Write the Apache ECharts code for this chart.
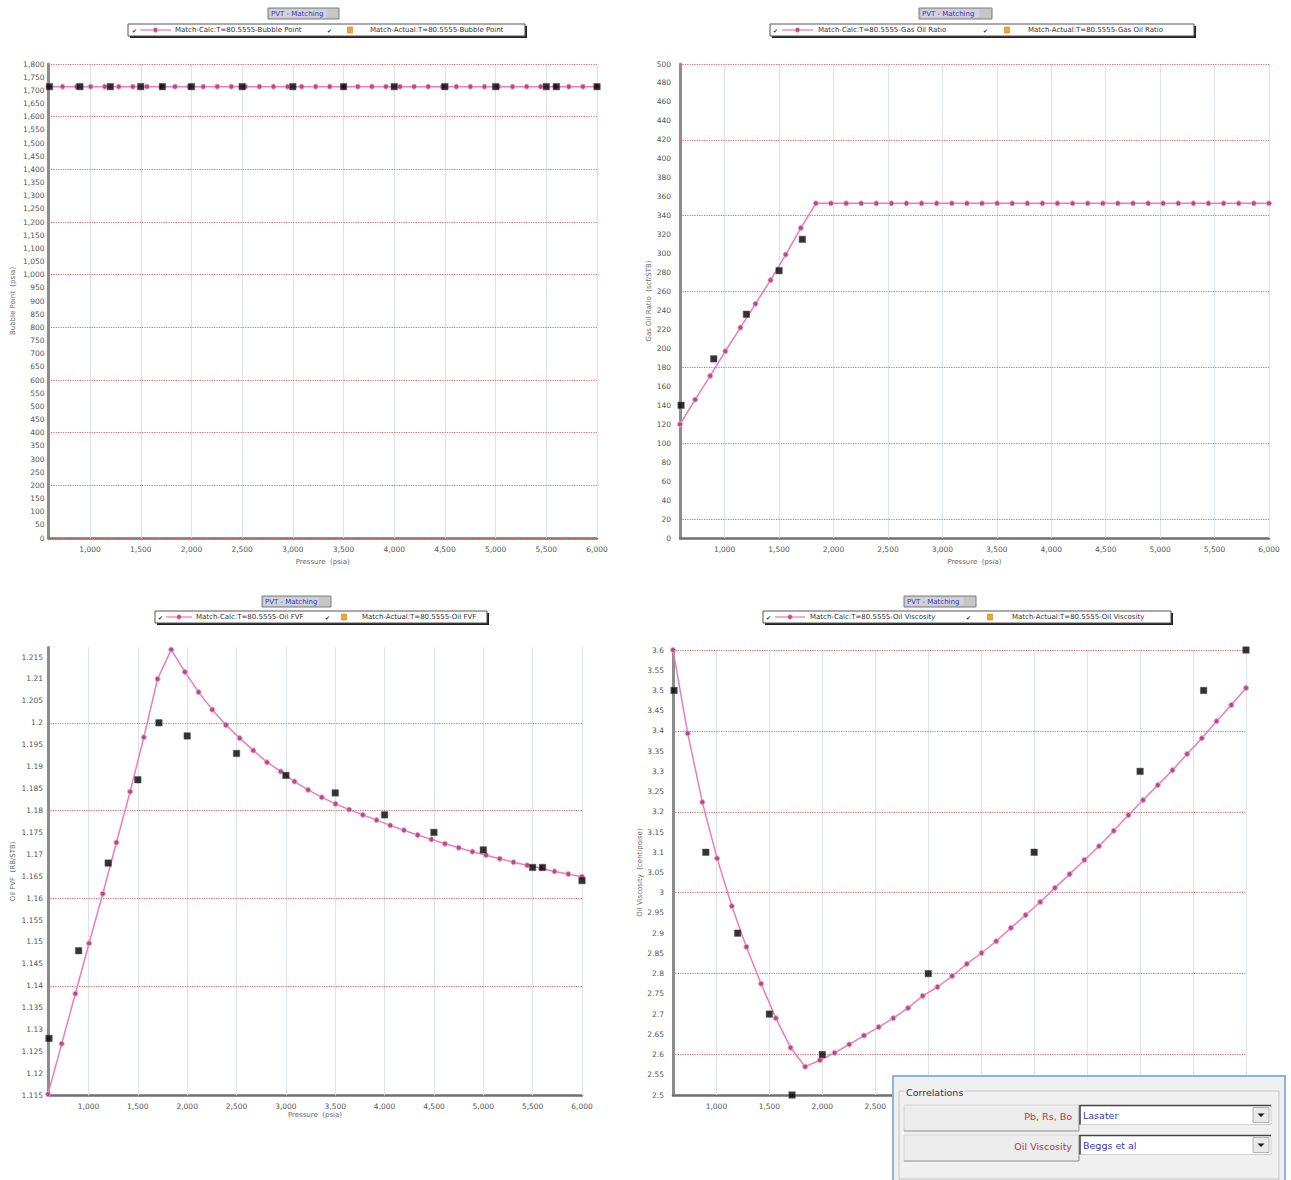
<!DOCTYPE html>
<html>
<head>
<meta charset="utf-8">
<title>PVT - Matching</title>
<script src="https://cdn.jsdelivr.net/npm/echarts@6/dist/echarts.min.js"></script>
<style>
  html, body { margin: 0; padding: 0; background: #ffffff; }
  #chart { width: 1291px; height: 1180px; }
</style>
</head>
<body>
<div id="chart"></div>
<script>
// ---- Calculated PVT table (pressure in psia) ----
const calcPressure = [590, 729, 867, 1006, 1145, 1283, 1422, 1561, 1700, 1838,
  1977, 2116, 2254, 2393, 2532, 2670, 2809, 2948, 3087, 3225,
  3364, 3503, 3641, 3780, 3919, 4057, 4196, 4335, 4474, 4612,
  4751, 4890, 5028, 5167, 5306, 5444, 5583, 5722, 5861, 6000];

const calcBubblePoint = [1714, 1714, 1714, 1714, 1714, 1714, 1714, 1714, 1714, 1714,
  1714, 1714, 1714, 1714, 1714, 1714, 1714, 1714, 1714, 1714,
  1714, 1714, 1714, 1714, 1714, 1714, 1714, 1714, 1714, 1714,
  1714, 1714, 1714, 1714, 1714, 1714, 1714, 1714, 1714, 1714];

const calcGasOilRatio = [120, 146, 171, 197, 222, 247, 272, 299, 327, 353,
  353, 353, 353, 353, 353, 353, 353, 353, 353, 353,
  353, 353, 353, 353, 353, 353, 353, 353, 353, 353,
  353, 353, 353, 353, 353, 353, 353, 353, 353, 353];

const calcOilFvf = [1.1153, 1.1268, 1.1382, 1.1497, 1.1610, 1.1727, 1.1843, 1.1967, 1.2100, 1.2167,
  1.2116, 1.2070, 1.2030, 1.1995, 1.1965, 1.1937, 1.1910, 1.1889, 1.1866, 1.1847,
  1.1830, 1.1815, 1.1802, 1.1790, 1.1778, 1.1766, 1.1755, 1.1744, 1.1734, 1.1724,
  1.1715, 1.1706, 1.1698, 1.1690, 1.1682, 1.1675, 1.1668, 1.1661, 1.1655, 1.1649];

const calcOilViscosity = [3.600, 3.394, 3.224, 3.085, 2.967, 2.866, 2.775, 2.690, 2.617, 2.570,
  2.586, 2.604, 2.625, 2.647, 2.668, 2.690, 2.715, 2.745, 2.767, 2.794,
  2.824, 2.851, 2.880, 2.913, 2.945, 2.977, 3.012, 3.046, 3.081, 3.115,
  3.153, 3.192, 3.229, 3.266, 3.303, 3.343, 3.382, 3.424, 3.464, 3.506];

// ---- Laboratory (actual) measurements ----
const actualPressure = [600, 900, 1200, 1500, 1714, 2000, 2500, 3000, 3500, 4000, 4500, 5000, 5500, 5600, 6000];
const actualBubblePoint = [1714, 1714, 1714, 1714, 1714, 1714, 1714, 1714, 1714, 1714, 1714, 1714, 1714, 1714, 1714];

const actualGorPressure = [600, 900, 1200, 1500, 1714];
const actualGasOilRatio = [140, 189, 236, 282, 315];

const actualOilFvf = [1.128, 1.148, 1.168, 1.187, 1.200, 1.197, 1.193, 1.188, 1.184, 1.179, 1.175, 1.171, 1.167, 1.167, 1.164];

const actualViscPressure = [600, 900, 1200, 1500, 1714, 2000, 3000, 4000, 5000, 5600, 6000];
const actualOilViscosity = [3.5, 3.1, 2.9, 2.7, 2.5, 2.6, 2.8, 3.1, 3.3, 3.5, 3.6];

// ---- Tick labels ----
const pressureTicks = [1000, 1500, 2000, 2500, 3000, 3500, 4000, 4500, 5000, 5500, 6000];
const bubblePointTicks = [0, 50, 100, 150, 200, 250, 300, 350, 400, 450, 500, 550, 600, 650, 700, 750, 800, 850, 900,
  950, 1000, 1050, 1100, 1150, 1200, 1250, 1300, 1350, 1400, 1450, 1500, 1550, 1600, 1650, 1700, 1750, 1800];
const gasOilRatioTicks = [0, 20, 40, 60, 80, 100, 120, 140, 160, 180, 200, 220, 240, 260, 280, 300, 320, 340,
  360, 380, 400, 420, 440, 460, 480, 500];
const oilFvfTicks = [1.115, 1.12, 1.125, 1.13, 1.135, 1.14, 1.145, 1.15, 1.155, 1.16, 1.165, 1.17, 1.175, 1.18,
  1.185, 1.19, 1.195, 1.2, 1.205, 1.21, 1.215];
const oilViscosityTicks = [2.5, 2.55, 2.6, 2.65, 2.7, 2.75, 2.8, 2.85, 2.9, 2.95, 3, 3.05, 3.1, 3.15, 3.2, 3.25,
  3.3, 3.35, 3.4, 3.45, 3.5, 3.55, 3.6];

// Dotted reference lines
const bubblePointGuides = [0, 200, 400, 600, 800, 1000, 1200, 1400, 1600, 1800];
const gasOilRatioGuides = [20, 100, 180, 260, 340, 420, 500];
const oilFvfGuides = [1.115, 1.135, 1.155, 1.175, 1.195, 1.215];
const oilViscosityGuides = [2.6, 2.8, 3.0, 3.2, 3.4, 3.6];

const FONT = 'DejaVu Sans';
const CALC_LINE = '#f07cb3';
const GUIDE_RED = '#e26a6a';
const VGRID = '#dde2e8';

const panels = [
  { name: 'Bubble Point', yName: 'Bubble Point  (psia)', grid: { left: 48.5, top: 64, width: 548.5, height: 474 },
    yMin: 0, yMax: 1800, yTicks: bubblePointTicks, guides: bubblePointGuides, yNameGap: 32, labelMargin: 4, xNameGap: 20,
    calc: calcBubblePoint, actualX: actualPressure, actual: actualBubblePoint },
  { name: 'Gas Oil Ratio', yName: 'Gas Oil Ratio  (scf/STB)', grid: { left: 680, top: 64, width: 589, height: 474 },
    yMin: 0, yMax: 500, yTicks: gasOilRatioTicks, guides: gasOilRatioGuides, yNameGap: 27, labelMargin: 9, xNameGap: 20,
    calc: calcGasOilRatio, actualX: actualGorPressure, actual: actualGasOilRatio },
  { name: 'Oil FVF', yName: 'Oil FVF  (RB/STB)', grid: { left: 48, top: 647.4, width: 534, height: 448 },
    yMin: 1.115, yMax: 1.2172, yTicks: oilFvfTicks, guides: oilFvfGuides, yNameGap: 32, labelMargin: 5, xNameGap: 16,
    calc: calcOilFvf, actualX: actualPressure, actual: actualOilFvf },
  { name: 'Oil Viscosity', yName: 'Oil Viscosity  (centipoise)', grid: { left: 673, top: 650, width: 573, height: 445 },
    yMin: 2.5, yMax: 3.6, yTicks: oilViscosityTicks, guides: oilViscosityGuides, yNameGap: 27, labelMargin: 9, xNameGap: 16,
    calc: calcOilViscosity, actualX: actualViscPressure, actual: actualOilViscosity }
];

const grids = [], xAxes = [], yAxes = [], series = [];

panels.forEach((p, i) => {
  grids.push(Object.assign({ containLabel: false }, p.grid));

  xAxes.push({
    type: 'value', gridIndex: i, min: 590, max: 6000,
    name: 'Pressure  (psia)', nameLocation: 'middle', nameGap: p.xNameGap,
    nameTextStyle: { fontFamily: FONT, fontSize: 7, color: '#666' },
    axisLine: { show: true, onZero: false, lineStyle: { color: '#707070', width: 2.5 } },
    axisTick: { show: false },
    splitLine: { show: false },
    axisLabel: { customValues: pressureTicks, fontFamily: FONT, fontSize: 7.5, color: '#555', margin: 7 }
  });

  yAxes.push({
    type: 'value', gridIndex: i, min: p.yMin, max: p.yMax,
    name: p.yName, nameLocation: 'middle', nameGap: p.yNameGap,
    nameTextStyle: { fontFamily: FONT, fontSize: 7, color: '#666' },
    axisLine: { show: true, onZero: false, lineStyle: { color: '#8c8c8c', width: 3 } },
    axisTick: { show: false },
    splitLine: { show: false },
    axisLabel: { customValues: p.yTicks, fontFamily: FONT, fontSize: 7.5, color: '#555', margin: p.labelMargin }
  });

  const guideLines = pressureTicks.map(v => ({ xAxis: v, lineStyle: { color: VGRID, type: 'solid', width: 1 } }))
    .concat(p.guides.map(v => ({ yAxis: v, lineStyle: { color: GUIDE_RED, type: 'dotted', width: 1.2 } })));

  series.push({
    name: 'Match-Calc:T=80.5555-' + p.name,
    type: 'line', xAxisIndex: i, yAxisIndex: i, z: 3,
    data: calcPressure.map((x, j) => [x, p.calc[j]]),
    symbol: 'circle', symbolSize: 5, showSymbol: true, showAllSymbol: true,
    lineStyle: { color: CALC_LINE, width: 1.5 },
    itemStyle: { color: '#b04c86', borderColor: '#f29ac6', borderWidth: 1 },
    markLine: {
      silent: true, z: 1, symbol: ['none', 'none'], animation: false,
      label: { show: false }, emphasis: { disabled: true },
      data: guideLines
    }
  });

  series.push({
    name: 'Match-Actual:T=80.5555-' + p.name,
    type: 'scatter', xAxisIndex: i, yAxisIndex: i, z: 4,
    data: p.actualX.map((x, j) => [x, p.actual[j]]),
    symbol: 'rect', symbolSize: 6.5,
    itemStyle: { color: '#000000', borderColor: '#555555', borderWidth: 0.6 }
  });
});

// Give every element of a graphic group the same stacking level
function lift(el, z) {
  el.z = z;
  if (el.children) el.children.forEach(c => lift(c, z));
  return el;
}

// ---- Header buttons and legend boxes ----
function titleButton(x, y, w, h) {
  return lift({
    type: 'group', children: [
      { type: 'rect', shape: { x: x, y: y, width: w, height: h }, style: { fill: '#c6c6c6', stroke: '#7d7d7d', lineWidth: 1 } },
      { type: 'rect', shape: { x: x + 2, y: y + 1.5, width: w * 0.8, height: h - 3 }, style: { fill: '#d2d2dc', stroke: null } },
      { type: 'text', x: x + 3, y: y + h / 2, style: { text: 'PVT - Matching', fill: '#3434b8', font: '7px "' + FONT + '"', verticalAlign: 'middle', align: 'left' } }
    ]
  }, 20);
}

function legendBox(cfg) {
  const y = cfg.y, h = cfg.h, cy = y + h / 2;
  const txt = (t, x) => ({ type: 'text', x: x, y: cy, style: { text: t, fill: '#333', font: '7px "' + FONT + '"', verticalAlign: 'middle', align: 'left' } });
  const chk = x => ({ type: 'text', x: x, y: cy, style: { text: '✔', fill: '#333', font: '6px "' + FONT + '"', verticalAlign: 'middle', align: 'left' } });
  return lift({
    type: 'group', children: [
      { type: 'rect', shape: { x: cfg.x + 2, y: y + 2, width: cfg.w, height: h }, style: { fill: '#222' } },
      { type: 'rect', shape: { x: cfg.x, y: y, width: cfg.w, height: h }, style: { fill: '#ffffff', stroke: '#555', lineWidth: 1 } },
      chk(cfg.chk1),
      { type: 'line', shape: { x1: cfg.l1, y1: cy, x2: cfg.l2, y2: cy }, style: { stroke: CALC_LINE, lineWidth: 1.3 } },
      { type: 'circle', shape: { cx: (cfg.l1 + cfg.l2) / 2, cy: cy, r: 2.3 }, style: { fill: '#b04c86', stroke: '#f29ac6', lineWidth: 0.8 } },
      txt(cfg.t1, cfg.x1),
      chk(cfg.chk2),
      { type: 'rect', shape: { x: cfg.sq - 2.5, y: cy - 3, width: 5, height: 6 }, style: { fill: '#f0a632', stroke: '#c98418', lineWidth: 0.6 } },
      txt(cfg.t2, cfg.x2)
    ]
  }, 20);
}

const graphics = [
  titleButton(268, 8, 71, 11),
  titleButton(919, 8, 73, 11),
  titleButton(262, 596, 69, 11),
  titleButton(904, 596, 72, 11),
  legendBox({ x: 128, y: 24, w: 397, h: 12, chk1: 132, l1: 140, l2: 171, x1: 175, t1: series[0].name, chk2: 327, sq: 350, x2: 370, t2: series[1].name }),
  legendBox({ x: 770, y: 24, w: 424, h: 12, chk1: 773, l1: 782, l2: 813, x1: 818, t1: series[2].name, chk2: 983, sq: 1007, x2: 1028, t2: series[3].name }),
  legendBox({ x: 155, y: 611, w: 332, h: 12, chk1: 158, l1: 166, l2: 192, x1: 196, t1: series[4].name, chk2: 325, sq: 344, x2: 362, t2: series[5].name }),
  legendBox({ x: 763, y: 611, w: 408, h: 12, chk1: 766, l1: 775, l2: 805, x1: 810, t1: series[6].name, chk2: 966, sq: 990, x2: 1012, t2: series[7].name })
];

// ---- Correlations selector ----
function selectorRow(y, label, value) {
  const f = '9.5px "' + FONT + '"';
  return [
    { type: 'rect', shape: { x: 904, y: y, width: 175, height: 26 }, style: { fill: '#ececec', stroke: '#d6d6d6', lineWidth: 1 } },
    { type: 'polyline', shape: { points: [[904, y + 26], [1079, y + 26], [1079, y]] }, style: { stroke: '#9a9a9a', lineWidth: 1, fill: null } },
    { type: 'text', x: 1072, y: y + 11, style: { text: label, fill: '#b33a3a', font: f, align: 'right', verticalAlign: 'middle' } },
    { type: 'rect', shape: { x: 1080, y: y + 0.5, width: 191, height: 19 }, style: { fill: '#ffffff', stroke: '#cfcfcf', lineWidth: 1 } },
    { type: 'polyline', shape: { points: [[1080, y + 19.5], [1080, y + 0.5], [1271, y + 0.5]] }, style: { stroke: '#444', lineWidth: 1.5, fill: null } },
    { type: 'text', x: 1083, y: y + 10.5, style: { text: value, fill: '#3a3ab4', font: f, align: 'left', verticalAlign: 'middle' } },
    { type: 'rect', shape: { x: 1253, y: y + 2.5, width: 16, height: 15 }, style: { fill: '#e9e9e9', stroke: '#b5b5b5', lineWidth: 1 } },
    { type: 'polygon', shape: { points: [[1257.5, y + 8.5], [1264.5, y + 8.5], [1261, y + 12]] }, style: { fill: '#111' } }
  ];
}

graphics.push(lift({
  type: 'group', children: [
    { type: 'rect', shape: { x: 893, y: 1076, width: 392, height: 108 }, style: { fill: '#f0f0f0', stroke: '#8db3dc', lineWidth: 2 } },
    { type: 'rect', shape: { x: 899, y: 1091, width: 380, height: 88 }, style: { fill: null, stroke: '#c4c4c4', lineWidth: 1 } },
    { type: 'text', x: 904, y: 1092, style: { text: 'Correlations', fill: '#333', font: '9.5px "' + FONT + '"', align: 'left', verticalAlign: 'middle', backgroundColor: '#f0f0f0', padding: [0, 2] } }
  ].concat(selectorRow(1105, 'Pb, Rs, Bo', 'Lasater'), selectorRow(1135, 'Oil Viscosity', 'Beggs et al'))
}, 100));

const chart = echarts.init(document.getElementById('chart'), null, { renderer: 'svg' });
chart.setOption({
  animation: false,
  backgroundColor: '#ffffff',
  textStyle: { fontFamily: FONT },
  grid: grids,
  xAxis: xAxes,
  yAxis: yAxes,
  series: series,
  graphic: { elements: graphics }
});
</script>
</body>
</html>
